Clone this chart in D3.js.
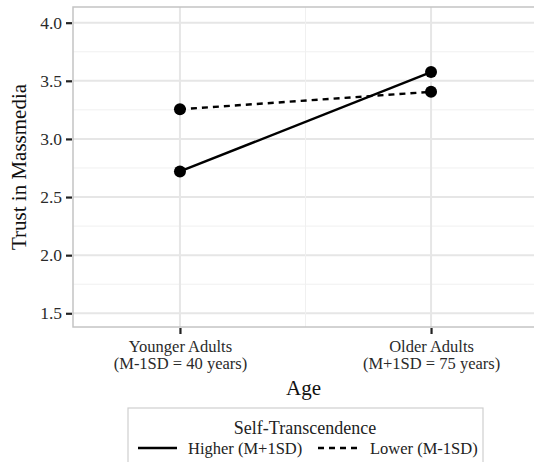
<!doctype html>
<html lang="en">
<head>
<meta charset="UTF-8">
<title>Trust in Massmedia</title>
<script src="https://d3js.org/d3.v7.min.js"></script>
<style>
  body { margin: 0; background: #fff; }
  text { font-family: "Liberation Serif", "Times New Roman", serif; }
</style>
</head>
<body>
<div id="chart-area"></div>
<script>
const ageGroups = ['Younger Adults', 'Older Adults'];
const ageSub = ['(M-1SD = 40 years)', '(M+1SD = 75 years)'];
const seriesNames = ['Higher (M+1SD)', 'Lower (M-1SD)'];
const higherVals = [2.72, 3.575];
const lowerVals = [3.255, 3.405];
const yTicks = [1.5, 2.0, 2.5, 3.0, 3.5, 4.0];
const yMinor = [1.75, 2.25, 2.75, 3.25, 3.75];

const W = 534, H = 462;
const panel = { left: 73, top: 7, right: 538, bottom: 327 };

const svg = d3.select('#chart-area')
    .append('svg')
    .attr('width', W)
    .attr('height', H);

const x = d3.scalePoint()
    .domain(ageGroups)
    .range([panel.left, panel.right])
    .padding(0.426);

const y = d3.scaleLinear()
    .domain([1.382, 4.135])
    .range([panel.bottom, panel.top]);

// gridlines
const grid = svg.append('g');
grid.selectAll('.ymin').data(yMinor).enter().append('line')
    .attr('x1', panel.left).attr('x2', panel.right)
    .attr('y1', d => y(d)).attr('y2', d => y(d))
    .attr('stroke', '#f0f0f0').attr('stroke-width', 1);
grid.selectAll('.ymaj').data(yTicks).enter().append('line')
    .attr('x1', panel.left).attr('x2', panel.right)
    .attr('y1', d => y(d)).attr('y2', d => y(d))
    .attr('stroke', '#e6e6e6').attr('stroke-width', 2);
// minor vertical between categories
grid.append('line')
    .attr('x1', (x(ageGroups[0]) + x(ageGroups[1])) / 2)
    .attr('x2', (x(ageGroups[0]) + x(ageGroups[1])) / 2)
    .attr('y1', panel.top).attr('y2', panel.bottom)
    .attr('stroke', '#f0f0f0').attr('stroke-width', 1);
grid.selectAll('.xmaj').data(ageGroups).enter().append('line')
    .attr('x1', d => x(d)).attr('x2', d => x(d))
    .attr('y1', panel.top).attr('y2', panel.bottom)
    .attr('stroke', '#e6e6e6').attr('stroke-width', 2);

// panel border
svg.append('rect')
    .attr('x', panel.left).attr('y', panel.top)
    .attr('width', panel.right - panel.left)
    .attr('height', panel.bottom - panel.top)
    .attr('fill', 'none')
    .attr('stroke', '#c4c4c4').attr('stroke-width', 1.5);

// axes
const yAxis = svg.append('g')
    .attr('transform', `translate(${panel.left - 1},0)`)
    .call(d3.axisLeft(y).tickValues(yTicks).tickFormat(d3.format('.1f')).tickSize(6).tickPadding(4));
yAxis.select('.domain').remove();
yAxis.selectAll('.tick line').attr('stroke', '#222').attr('stroke-width', 2.2);
yAxis.selectAll('.tick text').attr('font-size', 17.5).attr('fill', '#2a2a2a')
    .attr('font-family', '"Liberation Serif", serif');

const xAxis = svg.append('g')
    .attr('transform', `translate(0,${panel.bottom + 1})`)
    .call(d3.axisBottom(x).tickSize(6).tickFormat(''));
xAxis.select('.domain').remove();
xAxis.selectAll('.tick line').attr('stroke', '#222').attr('stroke-width', 2.2);
xAxis.selectAll('.tick').each(function (d, i) {
    const t = d3.select(this).append('text')
        .attr('text-anchor', 'middle')
        .attr('font-size', 16.5)
        .attr('fill', '#2a2a2a')
        .attr('font-family', '"Liberation Serif", serif');
    t.append('tspan').attr('x', 0).attr('y', 24).text(d);
    t.append('tspan').attr('x', 0).attr('y', 41).text(ageSub[i]);
});

// axis titles
svg.append('text')
    .attr('x', (panel.left + panel.right) / 2 - 2).attr('y', 395)
    .attr('text-anchor', 'middle')
    .attr('font-size', 21).attr('fill', '#111')
    .text('Age');
svg.append('text')
    .attr('transform', `translate(26,${(panel.top + panel.bottom) / 2}) rotate(-90)`)
    .attr('text-anchor', 'middle')
    .attr('font-size', 21).attr('fill', '#111')
    .text('Trust in Massmedia');

// lines and points
const series = [
    { name: seriesNames[0], vals: higherVals, dash: null },
    { name: seriesNames[1], vals: lowerVals, dash: '6,5' }
];
const line = d3.line().x((d, i) => x(ageGroups[i])).y(d => y(d));
series.forEach(s => {
    svg.append('path')
        .datum(s.vals)
        .attr('d', line)
        .attr('fill', 'none')
        .attr('stroke', '#000')
        .attr('stroke-width', 2.4)
        .attr('stroke-dasharray', s.dash);
    svg.selectAll(null).data(s.vals).enter().append('circle')
        .attr('cx', (d, i) => x(ageGroups[i]))
        .attr('cy', d => y(d))
        .attr('r', 6)
        .attr('fill', '#000');
});

// legend
const lg = svg.append('g');
lg.append('rect')
    .attr('x', 128).attr('y', 408)
    .attr('width', 355).attr('height', 60)
    .attr('fill', '#fff')
    .attr('stroke', '#cfcfcf').attr('stroke-width', 1.2);
lg.append('text')
    .attr('x', 305).attr('y', 434)
    .attr('text-anchor', 'middle')
    .attr('font-size', 18).attr('fill', '#222')
    .text('Self-Transcendence');
const items = [
    { x1: 138, x2: 177, tx: 188, dash: null, label: seriesNames[0] },
    { x1: 318, x2: 358, tx: 370, dash: '6,5', label: seriesNames[1] }
];
items.forEach(it => {
    lg.append('line')
        .attr('x1', it.x1).attr('x2', it.x2)
        .attr('y1', 448).attr('y2', 448)
        .attr('stroke', '#000').attr('stroke-width', 2.4)
        .attr('stroke-dasharray', it.dash);
    lg.append('text')
        .attr('x', it.tx).attr('y', 454)
        .attr('font-size', 16.5).attr('fill', '#222')
        .text(it.label);
});
</script>
</body>
</html>
